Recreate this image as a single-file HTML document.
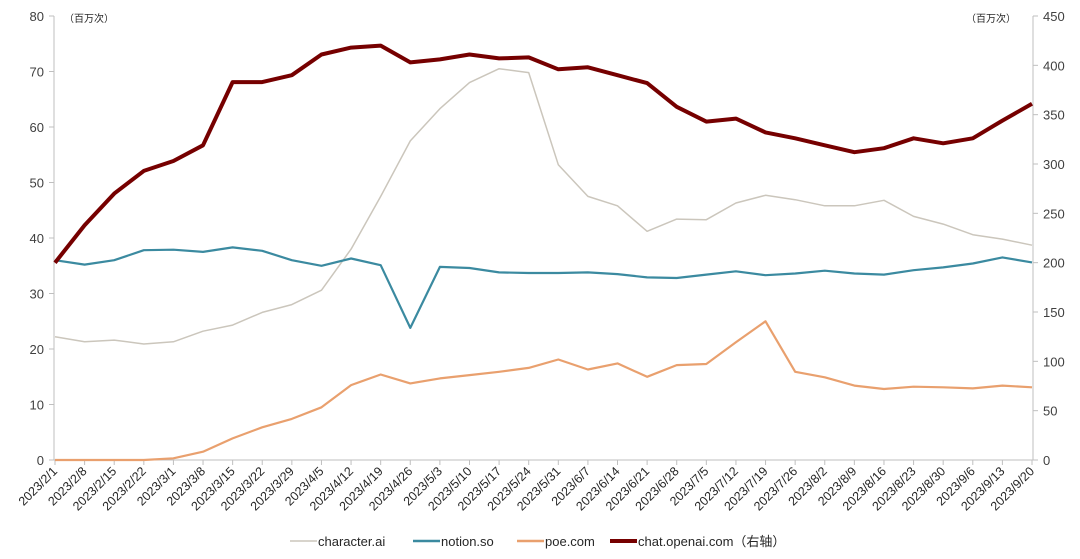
<!DOCTYPE html>
<html><head><meta charset="utf-8"><style>
body{margin:0;background:#fff;}
svg{display:block;font-family:"Liberation Sans","Noto Sans CJK SC",sans-serif;}
</style></head><body>
<svg id="chart" width="1080" height="559"></svg>
<script>
const categories=["2023/2/1","2023/2/8","2023/2/15","2023/2/22","2023/3/1","2023/3/8","2023/3/15","2023/3/22","2023/3/29","2023/4/5","2023/4/12","2023/4/19","2023/4/26","2023/5/3","2023/5/10","2023/5/17","2023/5/24","2023/5/31","2023/6/7","2023/6/14","2023/6/21","2023/6/28","2023/7/5","2023/7/12","2023/7/19","2023/7/26","2023/8/2","2023/8/9","2023/8/16","2023/8/23","2023/8/30","2023/9/6","2023/9/13","2023/9/20"];
const characterAi=[22.2,21.3,21.6,20.9,21.3,23.2,24.3,26.6,28,30.6,38,47.5,57.5,63.3,68,70.5,69.8,53.2,47.5,45.8,41.2,43.4,43.3,46.3,47.7,46.9,45.8,45.8,46.8,43.9,42.5,40.6,39.8,38.7];
const notionSo=[36,35.2,36,37.8,37.9,37.5,38.3,37.7,36,35,36.3,35.1,23.8,34.8,34.6,33.8,33.7,33.7,33.8,33.5,32.9,32.8,33.4,34,33.3,33.6,34.1,33.6,33.4,34.2,34.7,35.4,36.5,35.6];
const poeCom=[0,0,0,0,0.3,1.5,3.9,5.9,7.4,9.5,13.5,15.4,13.8,14.7,15.3,15.9,16.6,18.1,16.3,17.4,15,17.1,17.3,21.2,25,15.9,14.9,13.4,12.8,13.2,13.1,12.9,13.4,13.1];
const chatOpenai=[200,238,270,293,303,319,383,383,390,411,418,420,403,406,411,407,408,396,398,390,382,358,343,346,332,326,319,312,316,326,321,326,344,361];
const leftTicks=[0,10,20,30,40,50,60,70,80];
const rightTicks=[0,50,100,150,200,250,300,350,400,450];

const NS="http://www.w3.org/2000/svg";
const svg=document.getElementById('chart');
const X0=55,X1=1032,Y0=460,Y1=16;
const x=i=>X0+(X1-X0)*i/(categories.length-1);
const yL=v=>Y0-(Y0-Y1)*v/80;
const yR=v=>Y0-(Y0-Y1)*v/450;
function mk(t,a,p){const e=document.createElementNS(NS,t);for(const k in a)e.setAttribute(k,a[k]);(p||svg).appendChild(e);return e;}

let e;
e=mk('line',{x1:54,y1:Y1,x2:54,y2:Y0,stroke:'#bfbfbf'});


e=mk('line',{x1:1033,y1:Y1,x2:1033,y2:Y0,stroke:'#bfbfbf'});


e=mk('line',{x1:54,y1:Y0,x2:1033,y2:Y0,stroke:'#bfbfbf'});



leftTicks.forEach(v=>{
  e=mk('text',{x:44,y:yL(v)+5,'text-anchor':'end','font-size':13,fill:'#404040'});
  e.textContent=v;
  
  
  mk('line',{x1:49,x2:54,y1:yL(v),y2:yL(v),stroke:'#bfbfbf'});
});
rightTicks.forEach(v=>{
  e=mk('text',{x:1043,y:yR(v)+5,'text-anchor':'start','font-size':13,fill:'#404040'});
  e.textContent=v;
  
  
  mk('line',{x1:1033,x2:1038,y1:yR(v),y2:yR(v),stroke:'#bfbfbf'});
});
categories.forEach((c,i)=>{
  mk('line',{x1:x(i),x2:x(i),y1:Y0,y2:Y0+5,stroke:'#bfbfbf'});
  e=mk('text',{x:x(i)+3,y:Y0+12,'text-anchor':'end','font-size':12.5,fill:'#262626',transform:`rotate(-45 ${x(i)+3} ${Y0+12})`});
  e.textContent=c;
  
  
});
e=mk('text',{x:64,y:22,'font-size':10,fill:'#262626'});e.textContent='（百万次）';


e=mk('text',{x:966,y:22,'font-size':10,fill:'#262626'});e.textContent='（百万次）';



function line(data,yf,color,w,name){
  const pts=data.map((v,i)=>x(i).toFixed(1)+','+yf(v).toFixed(1)).join(' ');
  const p=mk('polyline',{points:pts,fill:'none',stroke:color,'stroke-width':w,'stroke-linejoin':'round'});
  
  
}
line(characterAi,yL,'#cbc6bc',1.5,'series-character-ai');
line(notionSo,yL,'#3b8aa0',2.2,'series-notion-so');
line(poeCom,yL,'#e9a06e',2.2,'series-poe-com');
line(chatOpenai,yR,'#760000',4,'series-chat-openai');

const legend=[['character.ai','#cbc6bc',1.5,290],['notion.so','#3b8aa0',2.5,413],['poe.com','#e9a06e',2.5,517],['chat.openai.com（右轴）','#760000',4,610]];
legend.forEach(([t,c,w,lx])=>{
  const g=mk('g',{});
  
  
  mk('line',{x1:lx,x2:lx+27,y1:541,y2:541,stroke:c,'stroke-width':w},g);
  const tx=mk('text',{x:lx+28,y:546,'font-size':13,fill:'#262626'},g);tx.textContent=t;
});
</script>
</body></html>
